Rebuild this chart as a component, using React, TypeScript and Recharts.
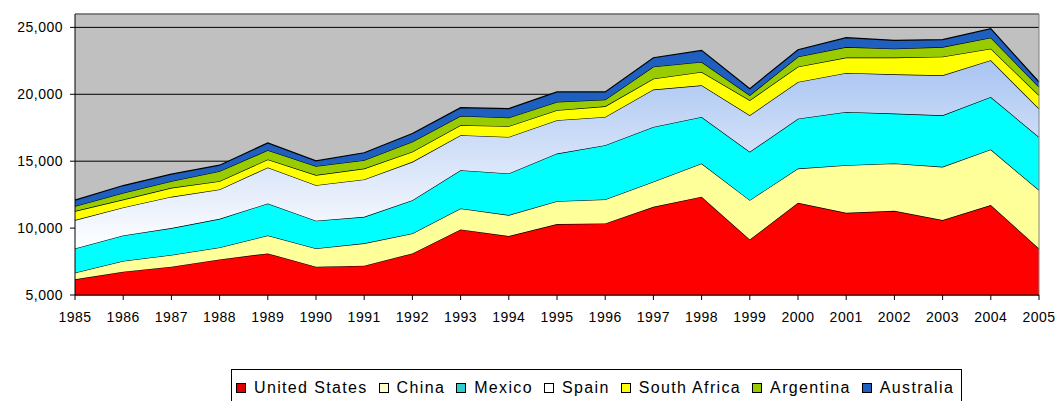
import React from 'react';
import { AreaChart, Area, XAxis, YAxis, CartesianGrid, ReferenceLine } from 'recharts';

const years = ['1985', '1986', '1987', '1988', '1989', '1990', '1991', '1992', '1993', '1994', '1995',
  '1996', '1997', '1998', '1999', '2000', '2001', '2002', '2003', '2004', '2005'];

const unitedStates = [6170, 6740, 7110, 7660, 8110, 7110, 7190, 8110, 9900, 9400, 10300, 10350, 11590, 12340, 9150, 11890, 11140, 11290, 10600, 11720, 8480];
const china = [490, 800, 880, 890, 1340, 1370, 1670, 1490, 1570, 1570, 1710, 1790, 1870, 2490, 2940, 2560, 3560, 3540, 3980, 4150, 4360];
const mexico = [1820, 1910, 2010, 2140, 2390, 2070, 1980, 2490, 2860, 3110, 3560, 4050, 4100, 3480, 3610, 3730, 3980, 3730, 3850, 3930, 3970];
const spain = [2120, 2090, 2340, 2200, 2690, 2660, 2790, 2860, 2610, 2730, 2490, 2120, 2790, 2360, 2730, 2740, 2920, 2930, 2990, 2740, 2120];
const southAfrica = [670, 590, 670, 620, 600, 750, 820, 750, 750, 800, 750, 790, 820, 1000, 1120, 1140, 1140, 1250, 1390, 870, 1000];
const argentina = [370, 500, 500, 740, 690, 670, 620, 750, 690, 640, 620, 500, 890, 750, 380, 750, 790, 670, 720, 820, 620];
const australia = [450, 550, 520, 450, 550, 390, 560, 620, 620, 680, 750, 580, 670, 860, 490, 520, 700, 620, 550, 670, 370];

const yTicks = [5000, 10000, 15000, 20000, 25000];

const series = [
  { key: 'United States', fill: '#FF0000', swatch: '#E00000' },
  { key: 'China', fill: '#FFFF99', swatch: '#FFFFCC' },
  { key: 'Mexico', fill: '#00FFFF', swatch: '#33CCCC' },
  { key: 'Spain', fill: 'url(#spainFill)', swatch: '#FFFFFF' },
  { key: 'South Africa', fill: '#FFFF00', swatch: '#FFFF00' },
  { key: 'Argentina', fill: '#99CC00', swatch: '#99CC00' },
  { key: 'Australia', fill: '#1F5FBF', swatch: '#1F5FBF' },
];

const data = years.map((year, i) => ({
  year,
  'United States': unitedStates[i],
  China: china[i],
  Mexico: mexico[i],
  Spain: spain[i],
  'South Africa': southAfrica[i],
  Argentina: argentina[i],
  Australia: australia[i],
}));

const font = '"Liberation Sans", Arial, sans-serif';

export default function App() {
  return (
    <div style={{ position: 'absolute', left: 0, top: 0, width: 1057, height: 401, background: '#fff', fontFamily: font, overflow: 'hidden' }}>
      <AreaChart width={1057} height={401} data={data} margin={{ top: 14, right: 18, bottom: 76, left: 0 }}>
        <defs>
          <linearGradient id="spainFill" x1="0" y1="0" x2="0" y2="1">
            <stop offset="0%" stopColor="#A8C4F2" />
            <stop offset="100%" stopColor="#FFFFFF" />
          </linearGradient>
        </defs>
        <CartesianGrid vertical={false} fill="#C0C0C0" stroke="#000" strokeOpacity={1} />
        <XAxis
          dataKey="year"
          interval={0}
          height={30}
          tickSize={5}
          tickMargin={12}
          stroke="#000"
          tick={{ fill: '#000', fontSize: 14, letterSpacing: 0.5, fontFamily: font }}
        />
        <YAxis
          width={75}
          domain={[5000, 26000]}
          ticks={yTicks}
          allowDataOverflow
          tickSize={5}
          tickMargin={7}
          stroke="#000"
          tickFormatter={(v: number) => v.toLocaleString('en-US')}
          tick={{ fill: '#000', fontSize: 14, letterSpacing: 0.5, fontFamily: font }}
        />
        {series.map((s) => (
          <Area
            key={s.key}
            type="linear"
            dataKey={s.key}
            stackId="a"
            fill={s.fill}
            fillOpacity={1}
            stroke="#000"
            strokeWidth={1.2}
            isAnimationActive={false}
            dot={false}
            activeDot={false}
          />
        ))}
        <ReferenceLine y={26000} stroke="#9A9A9A" />
        <ReferenceLine x="2005" stroke="#808080" />
      </AreaChart>
      <div
        style={{
          position: 'absolute', left: 231, top: 369, width: 731, height: 40,
          border: '1px solid #000', boxSizing: 'border-box', background: '#fff',
          display: 'flex', alignItems: 'flex-start', paddingLeft: 4, paddingTop: 9,
          fontSize: 16, letterSpacing: 1.35, color: '#000', whiteSpace: 'nowrap',
        }}
      >
        {series.map((s) => (
          <div key={s.key} style={{ display: 'flex', alignItems: 'center', marginRight: 11 }}>
            <span style={{ display: 'inline-block', width: 8, height: 8, border: '1px solid #000', background: s.swatch, marginRight: 8 }} />
            <span style={{ lineHeight: '18px' }}>{s.key}</span>
          </div>
        ))}
      </div>
    </div>
  );
}
